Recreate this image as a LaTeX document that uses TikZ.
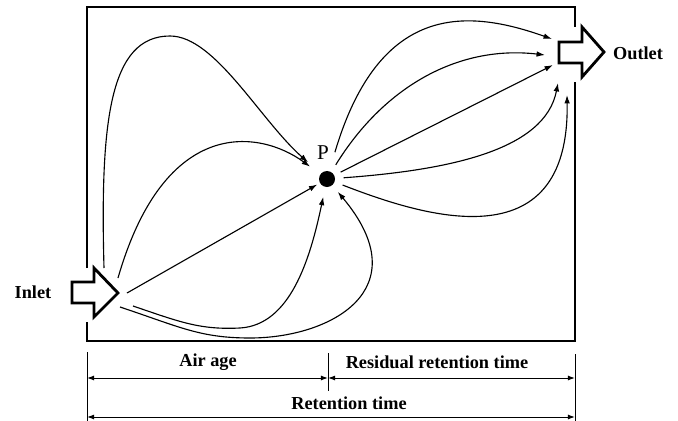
\documentclass[tikz,border=0pt]{standalone}
\usepackage{fontspec}
\setmainfont{Liberation Serif}
\usetikzlibrary{arrows.meta}

\begin{document}
\begin{tikzpicture}[x=0.025cm, y=-0.025cm, >={Latex[length=6pt,width=4pt]},
  font=\fontsize{13}{15}\selectfont\bfseries,
  wall/.style={line width=1.8pt},
  port/.style={line width=2pt, line join=miter},
  flow/.style={->, line width=0.8pt},
  dot/.style={circle, fill, inner sep=0pt, minimum size=0.4cm},
  tick/.style={line width=0.7pt},
  span/.style={{Latex[length=5pt,width=3.5pt]}-{Latex[length=5pt,width=3.5pt]}, line width=0.7pt}]
\useasboundingbox (0,0) rectangle (678,421);

% room walls
\draw[wall] (87,268) -- (87,7) -- (575,7) -- (575,27);
\draw[wall] (575,82) -- (575,341) -- (87,341) -- (87,322);

% inlet and outlet
\draw[port] (72,282) -- (94,282) -- (94,268) -- (118,293) -- (94,317) -- (94,303) -- (72,303) -- cycle;
\draw[port] (559,42) -- (582,42) -- (582,27) -- (604,52) -- (582,77) -- (582,63) -- (559,63) -- cycle;
\coordinate (inlet) at (118,293);
\coordinate (outlet) at (559,52);
\node (inlabel) at (33,292) {Inlet};
\node (outlabel) at (638,53) {Outlet};

% point P
\node[dot] (P) at (327,179) {};
\node (plabel) at (323,153) {\fontsize{15}{18}\selectfont\mdseries P};

% paths from the inlet to P
\draw[flow, shorten >=12pt] ([shift={(-14,-25)}]inlet) .. controls (100,120) and (110,36) .. (170,36)
  .. controls (215,36) and (260,120) .. (P);
\draw[flow, shorten >=9pt] ([shift={(0,-15)}]inlet) .. controls (165,115) and (260,130) .. (P);
\draw[flow, shorten >=2pt] ([shift={(9,0)}]inlet) -- (P);
\draw[flow, shorten >=7pt] ([shift={(15,13)}]inlet) .. controls (180,322) and (200,330) .. (240,328)
  .. controls (290,325) and (310,260) .. (P);
\draw[flow, shorten >=6pt] ([shift={(2,14)}]inlet) .. controls (180,327) and (200,338) .. (250,338)
  .. controls (330,338) and (420,290) .. (P);

% paths from P to the outlet
\draw[flow, shorten <=14pt] (P) .. controls (380,0) and (470,10) .. ([shift={(-7,-13)}]outlet);
\draw[flow, shorten <=6pt] (P) .. controls (385,85) and (460,45) .. ([shift={(-14,3)}]outlet);
\draw[flow, shorten <=5pt] (P) -- ([shift={(-6,13)}]outlet);
\draw[flow, shorten <=6pt] (P) .. controls (450,170) and (545,150) .. ([shift={(-1,31)}]outlet);
\draw[flow, shorten <=6pt] (P) .. controls (420,215) and (570,265) .. ([shift={(8,43)}]outlet);

% time spans
\draw[tick] (87,352) -- (87,421);
\draw[tick] (328,353) -- (328,391);
\draw[tick] (575,354) -- (575,421);
\coordinate (s0) at (87,378);
\coordinate (s1) at (328,378);
\coordinate (s2) at (575,378);
\coordinate (r0) at (87,417);
\coordinate (r2) at (575,417);
\draw[span] (s0) -- (s1);
\draw[span] (s1) -- (s2);
\draw[span] (r0) -- (r2);
\node (airage) at (208,362) {Air age};
\node (residual) at (437,362) {Residual retention time};
\node (retention) at (349,403) {Retention time};
\end{tikzpicture}
\end{document}
